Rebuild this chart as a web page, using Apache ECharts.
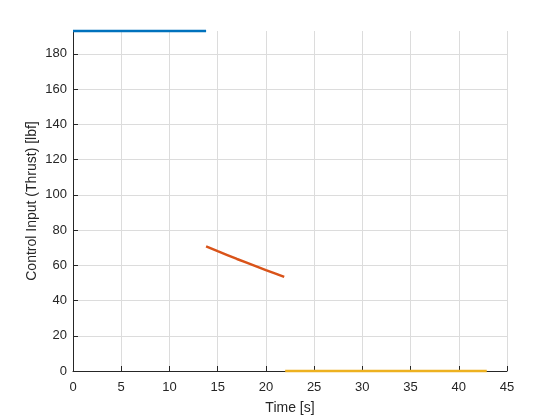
<!DOCTYPE html>
<html><head><meta charset="utf-8">
<script src="https://cdn.jsdelivr.net/npm/echarts@6/dist/echarts.min.js"></script>
<style>html,body{margin:0;padding:0;background:#fff}#c{width:560px;height:420px}</style>
</head><body><div id="c"></div>
<script>
var blueT = [0, 13.8];
var blueV = [193, 193];
var orangeT = [13.8, 15, 16, 17, 18, 19, 20, 21, 21.9];
var orangeV = [70.7, 68.0, 65.8, 63.6, 61.5, 59.4, 57.3, 55.3, 53.4];
var yellowT = [22.0, 42.9];
var yellowV = [0, 0];
var xTicks = [0, 5, 10, 15, 20, 25, 30, 35, 40, 45];
var yTicks = [0, 20, 40, 60, 80, 100, 120, 140, 160, 180];

function pairs(t, v) { return t.map(function (x, i) { return [x, v[i]]; }); }

var chart = echarts.init(document.getElementById('c'), null, {renderer: 'canvas'});
var font = 'Helvetica, Arial, "Liberation Sans", sans-serif';
chart.setOption({
  animation: false,
  backgroundColor: '#fff',
  grid: {left: 73, right: 53, top: 31, bottom: 47, containLabel: false},
  xAxis: {
    type: 'value', min: 0, max: 45, interval: 5,
    name: 'Time [s]', nameLocation: 'middle', nameGap: 30, nameMoveOverlap: false,
    nameTextStyle: {color: '#262626', fontSize: 14, fontFamily: font},
    axisLine: {show: true, onZero: false, lineStyle: {color: '#262626', width: 1}},
    axisTick: {show: true, inside: true, length: 5, lineStyle: {color: '#262626'}},
    axisLabel: {color: '#262626', fontSize: 13, fontFamily: font, margin: 10,
      formatter: function (v) { return xTicks.indexOf(v) >= 0 ? String(v) : ''; }},
    splitLine: {show: true, lineStyle: {color: '#dcdcdc', width: 1}}
  },
  yAxis: {
    type: 'value', min: 0, max: 193, interval: 20,
    name: 'Control Input (Thrust) [lbf]', nameLocation: 'middle', nameGap: 34, nameMoveOverlap: false,
    nameTextStyle: {color: '#262626', fontSize: 14, fontFamily: font},
    axisLine: {show: true, onZero: false, lineStyle: {color: '#262626', width: 1}},
    axisTick: {show: true, inside: true, length: 5, lineStyle: {color: '#262626'}},
    axisLabel: {color: '#262626', fontSize: 13, fontFamily: font, margin: 6, showMaxLabel: false,
      formatter: function (v) { return yTicks.indexOf(v) >= 0 ? String(v) : ''; }},
    splitLine: {show: true, showMaxLine: false, lineStyle: {color: '#dcdcdc', width: 1}}
  },
  series: [
    {type: 'line', data: pairs(blueT, blueV), showSymbol: false, clip: false,
      lineStyle: {color: '#0072BD', width: 2.5}},
    {type: 'line', data: pairs(orangeT, orangeV), showSymbol: false, clip: false,
      lineStyle: {color: '#D95319', width: 2.5}},
    {type: 'line', data: pairs(yellowT, yellowV), showSymbol: false, clip: false,
      lineStyle: {color: '#EDB120', width: 2.5}}
  ]
});
</script></body></html>
